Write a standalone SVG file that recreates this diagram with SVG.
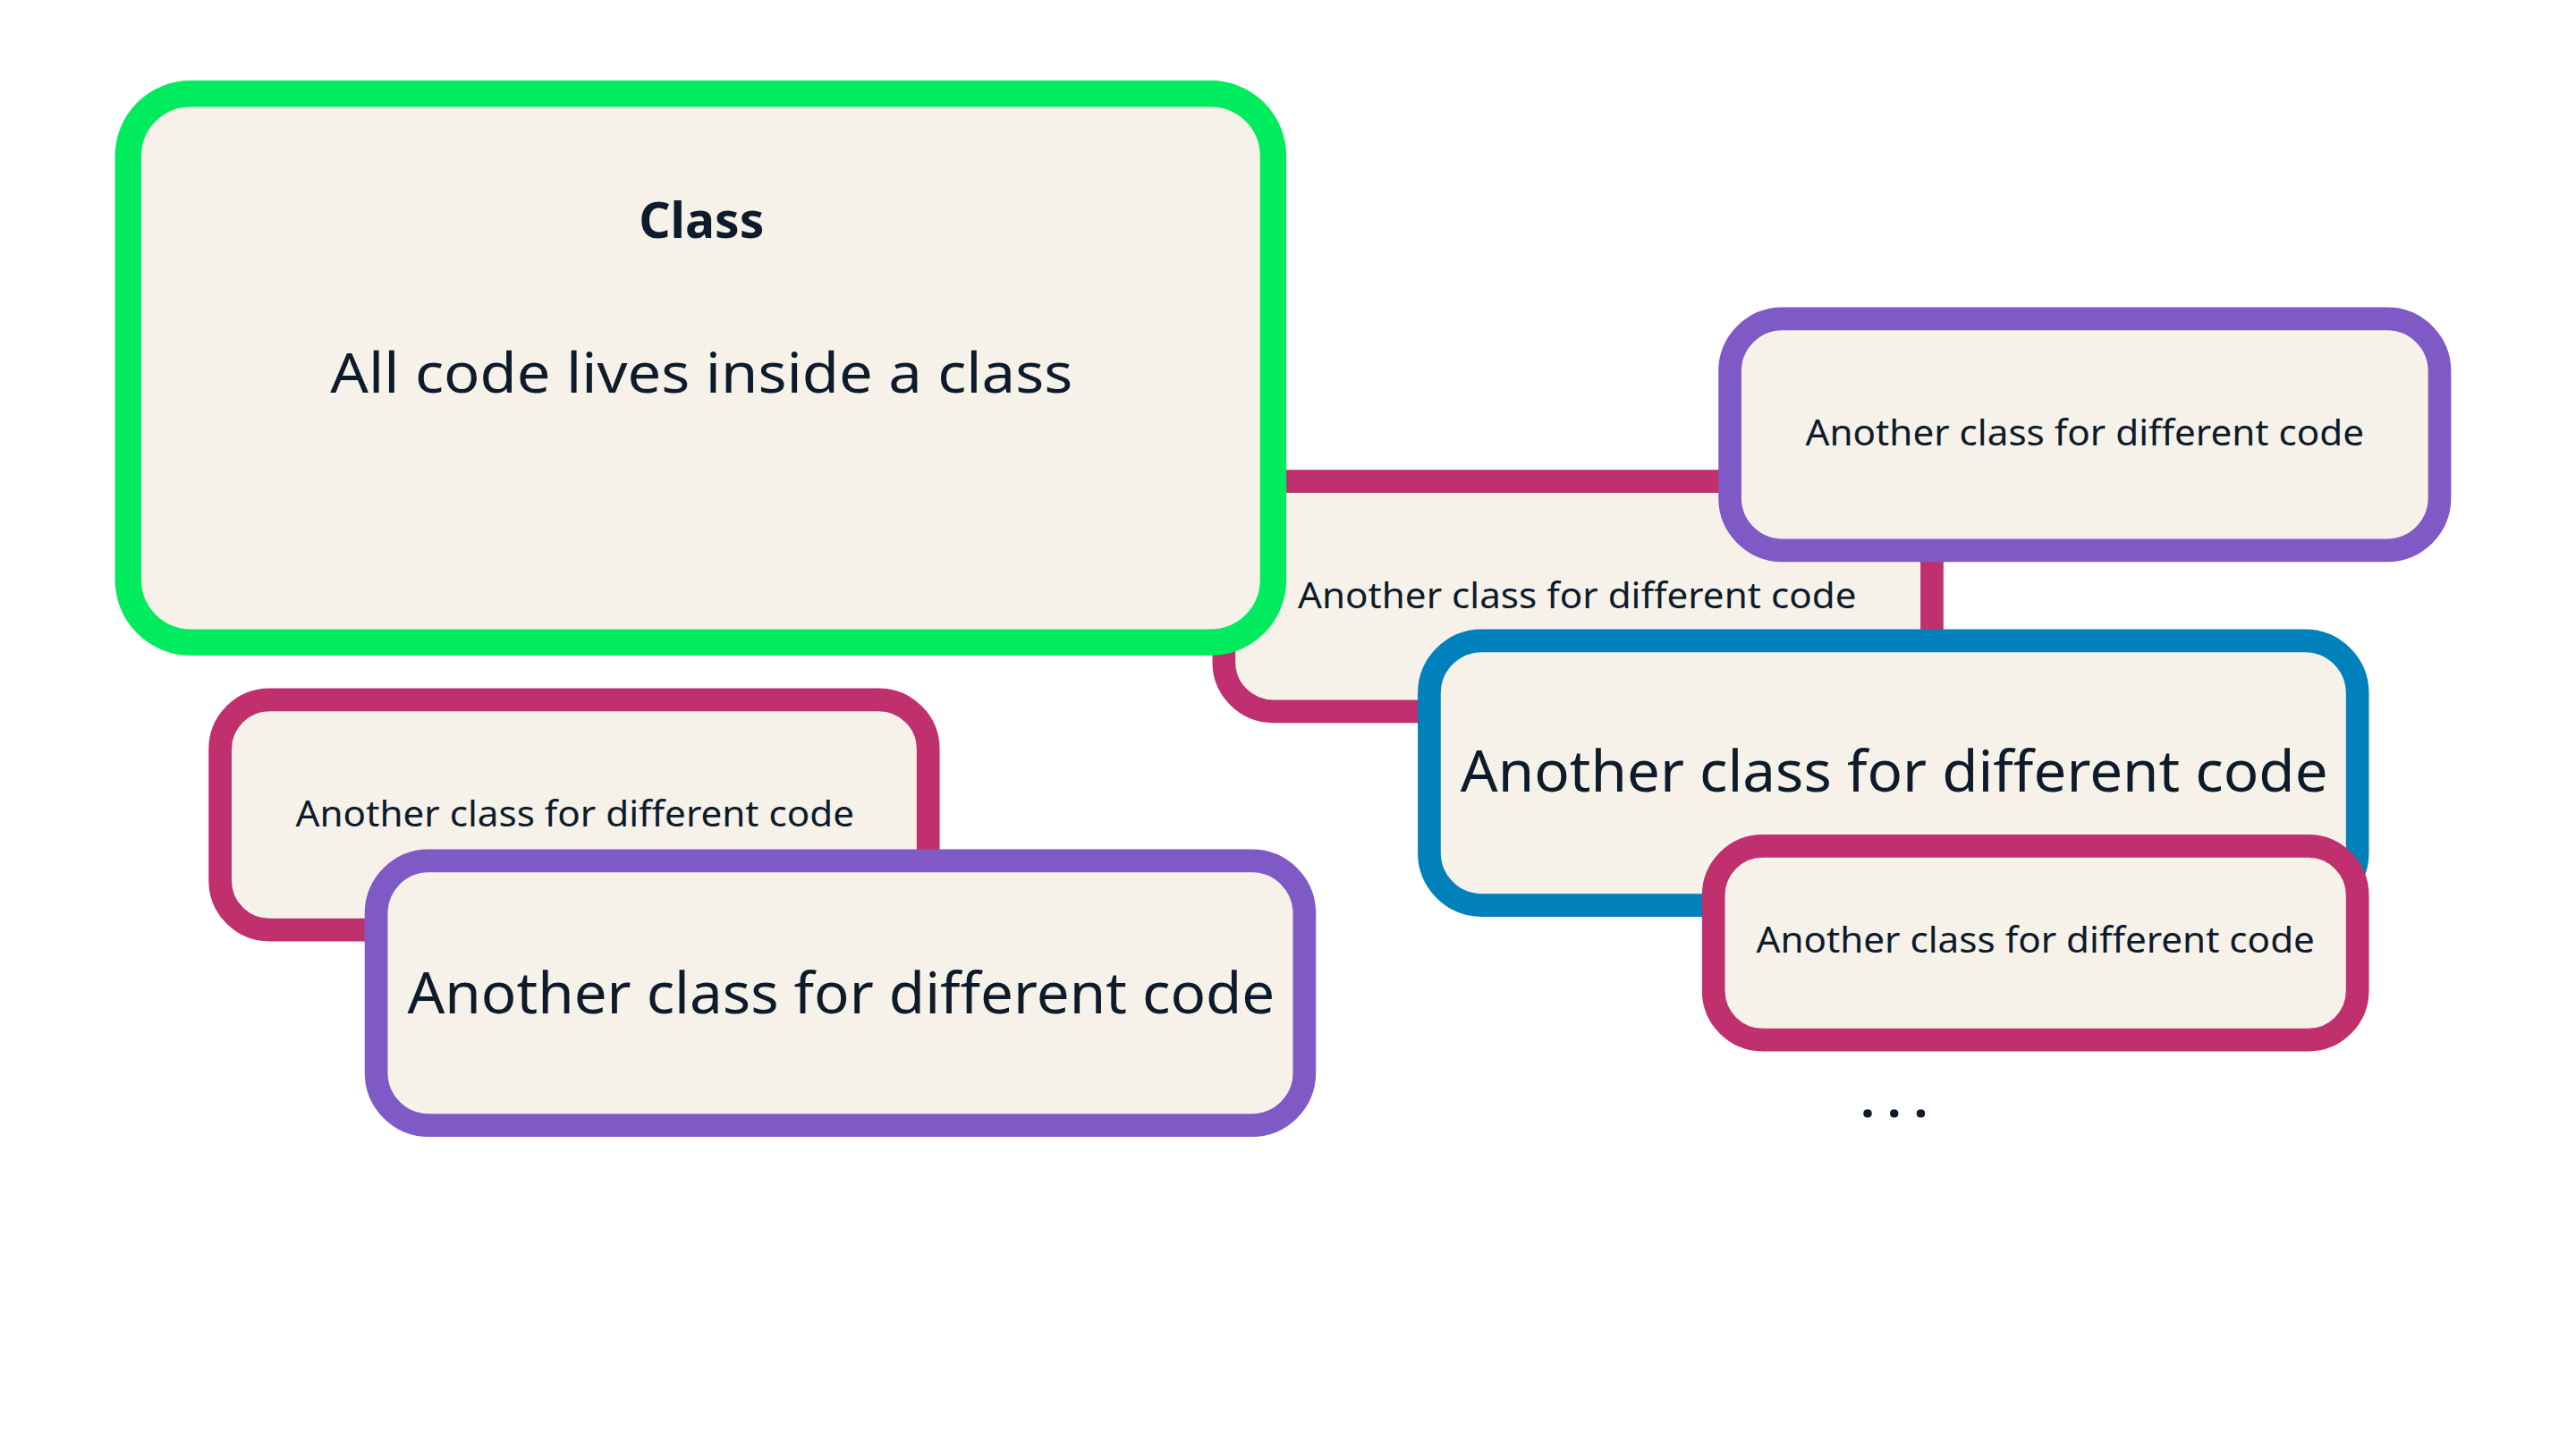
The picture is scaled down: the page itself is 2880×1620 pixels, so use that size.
<svg xmlns="http://www.w3.org/2000/svg" width="2880" height="1620" viewBox="0 0 2880 1620">
<style>
.b{fill:#F6F2EA}
.g{stroke:#00EB5E;stroke-width:16}
.m{stroke:#C0306F;stroke-width:14}
.p{stroke:#7F5AC6;stroke-width:14}
.u{stroke:#0081BB;stroke-width:14}
text{font-family:"Noto Sans","Liberation Sans",sans-serif;fill:#0D1B2A;text-anchor:middle}
.s{font-size:22px}
.l{font-size:35px}
</style>
<rect width="2880" height="1620" fill="#fff"/>
<g transform="scale(1.8367)">
<g id="mid"><rect class="b m" x="745" y="293" width="431" height="140" rx="30"/><text class="s" x="960" y="370" textLength="340" lengthAdjust="spacingAndGlyphs">Another class for different code</text></g>
<g id="class"><rect class="b g" x="78" y="57" width="697" height="334" rx="38"/><text x="427" y="145" font-size="30" font-weight="bold">Class</text><text x="427" y="239" font-size="34" textLength="452" lengthAdjust="spacingAndGlyphs">All code lives inside a class</text></g>
<g id="tr"><rect class="b p" x="1053" y="194" width="432" height="141" rx="32"/><text class="s" x="1269" y="271" textLength="340" lengthAdjust="spacingAndGlyphs">Another class for different code</text></g>
<g id="blue"><rect class="b u" x="870" y="390" width="565" height="161" rx="32"/><text class="l" x="1153" y="482" textLength="528" lengthAdjust="spacingAndGlyphs">Another class for different code</text></g>
<g id="br"><rect class="b m" x="1043" y="515" width="392" height="118" rx="30"/><text class="s" x="1239" y="580" textLength="340" lengthAdjust="spacingAndGlyphs">Another class for different code</text></g>
<g id="left"><rect class="b m" x="134" y="426" width="431" height="140" rx="30"/><text class="s" x="350" y="503" textLength="340" lengthAdjust="spacingAndGlyphs">Another class for different code</text></g>
<g id="bl"><rect class="b p" x="229" y="524" width="565" height="161" rx="32"/><text class="l" x="512" y="617" textLength="528" lengthAdjust="spacingAndGlyphs">Another class for different code</text></g>
<g id="connectors"/>
<text x="1153" y="680" font-size="30" font-weight="bold">. . .</text>
</g>
</svg>
